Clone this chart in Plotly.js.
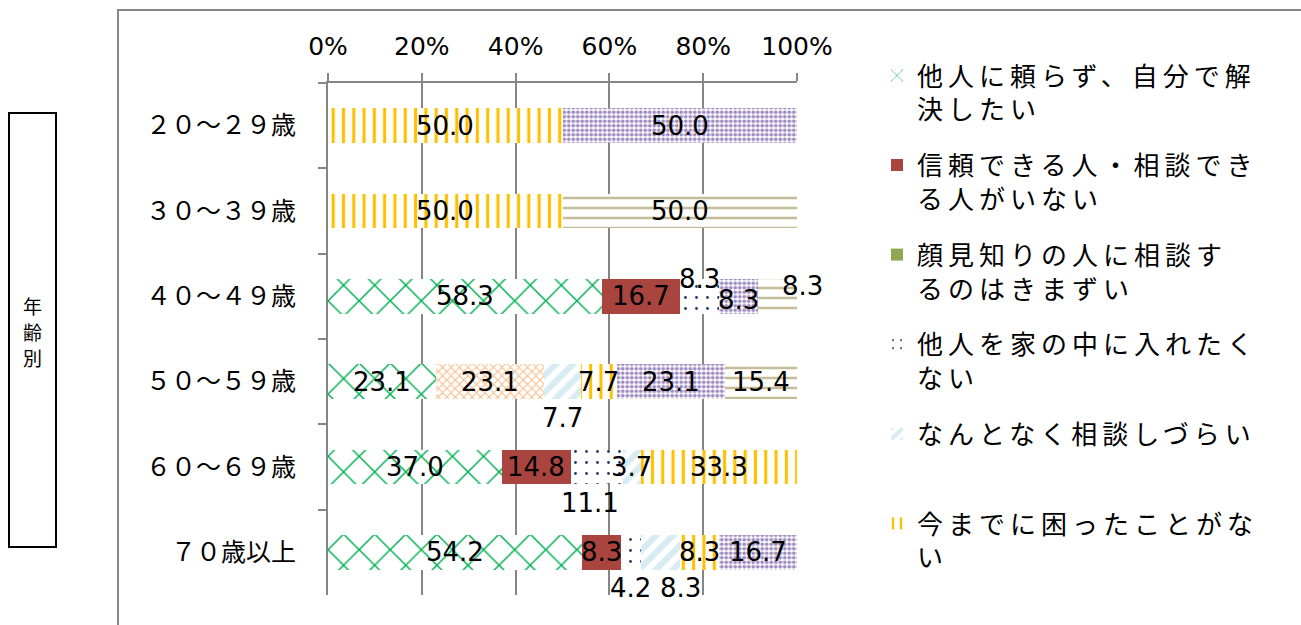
<!DOCTYPE html>
<html>
<head>
<meta charset="utf-8">
<script src="https://cdn.plot.ly/plotly-3.0.1.min.js"></script>
<style>
  html, body { margin: 0; padding: 0; background: #fff; }
  #chart { width: 1301px; height: 625px; }
  .legendtext { letter-spacing: 5px; }
</style>
</head>
<body>
<div id="chart"></div>
<script>
// ---- data ----
const categories = ['２０～２９歳', '３０～３９歳', '４０～４９歳', '５０～５９歳', '６０～６９歳', '７０歳以上'];
const xTickVals = [0, 20, 40, 60, 80, 100];
const xTickText = ['0%', '20%', '40%', '60%', '80%', '100%'];
const sideLabel = ['年', '齢', '別'];

const seriesNames = [
  '他人に頼らず、自分で解<br>決したい',
  '信頼できる人・相談でき<br>る人がいない',
  '顔見知りの人に相談す<br>るのはきまずい',
  '他人を家の中に入れたく<br>ない',
  'その他1',
  'なんとなく相談しづらい<br>\u00a0',
  '今までに困ったことがな<br>い',
  'その他2',
  'その他3'
];

const selfSolve   = [0, 0, 58.3, 23.1, 37.0, 54.2];
const noTrust     = [0, 0, 16.7, 0, 14.8, 8.3];
const awkward     = [0, 0, 0, 0, 0, 0];
const noVisitors  = [0, 0, 8.3, 0, 11.1, 4.2];
const other1      = [0, 0, 0, 23.1, 0, 0];
const vague       = [0, 0, 0, 7.7, 3.7, 8.3];
const neverTrouble= [50.0, 50.0, 0, 7.7, 33.3, 8.3];
const other2      = [50.0, 0, 8.3, 23.1, 0, 16.7];
const other3      = [0, 50.0, 8.3, 15.4, 0, 0];

const seriesValues = [selfSolve, noTrust, awkward, noVisitors, other1, vague, neverTrouble, other2, other3];

// ---- styles ----
const styles = [
  {color: '#00B050', pattern: {shape: 'x', size: 22, solidity: 0.13, fgcolor: '#00B050', bgcolor: '#ffffff'}, legend: true},
  {color: '#A9443F', pattern: null, legend: true},
  {color: '#8EA752', pattern: null, legend: true},
  {color: '#1F3864', pattern: {shape: '.', size: 11, solidity: 0.05, fgcolor: '#1F3864', bgcolor: '#ffffff'}, legend: true},
  {color: '#F9BE8E', pattern: {shape: 'x', size: 6, solidity: 0.35, fgcolor: '#F9BE8E', bgcolor: '#ffffff'}, legend: false},
  {color: '#D6EBF2', pattern: {shape: '/', size: 12, solidity: 0.5, fgcolor: '#D6EBF2', bgcolor: '#ffffff'}, legend: true},
  {color: '#FFC000', pattern: {shape: '|', size: 10.3, solidity: 0.3, fgcolor: '#FFC000', bgcolor: '#ffffff'}, legend: true},
  {color: '#A08CC0', pattern: {shape: '.', size: 4.5, solidity: 0.55, fgcolor: '#A08CC0', bgcolor: '#ffffff'}, legend: false},
  {color: '#C4BD97', pattern: {shape: '-', size: 10, solidity: 0.25, fgcolor: '#C4BD97', bgcolor: '#ffffff'}, legend: false}
];

// label offsets (pixels) for small segments: key = seriesIndex + '|' + categoryIndex
const labelShift = {
  '3|2': [0, 17],
  '8|2': [25, 10],
  '7|2': [0, -4],
  '5|3': [0, -36],
  '3|4': [-7, -36],
  '3|5': [0, -36],
  '5|5': [20, -36]
};

const traces = seriesValues.map((vals, s) => {
  const st = styles[s];
  const marker = {color: st.color, line: {width: 0}};
  if (st.pattern) marker.pattern = st.pattern;
  return {
    type: 'bar',
    orientation: 'h',
    name: seriesNames[s],
    x: vals,
    y: categories,
    marker: marker,
    showlegend: st.legend,
    legendgroup: 'g' + s,
    hoverinfo: 'skip'
  };
});

// data labels positioned at segment centres (normalised to 100%)
const annotations = [];
categories.forEach((cat, i) => {
  let total = 0;
  seriesValues.forEach(v => { total += v[i]; });
  let cum = 0;
  seriesValues.forEach((v, s) => {
    const val = v[i];
    if (val > 0) {
      const mid = (cum + val / 2) / total * 100;
      const sh = labelShift[s + '|' + i] || [0, 0];
      annotations.push({
        x: mid, y: cat, xref: 'x', yref: 'y',
        text: val.toFixed(1), showarrow: false,
        xshift: sh[0], yshift: sh[1],
        font: {family: 'DejaVu Sans', size: 26, color: '#000'}
      });
    }
    cum += val;
  });
});

// pixel helpers for frame elements
const L = 328, R = 1301 - 797, T = 83, B = 625 - 595;
const pw = 1301 - L - R, ph = 625 - T - B;
const px = X => (X - L) / pw;
const py = Y => 1 - (Y - T) / ph;

sideLabel.forEach((ch, k) => {
  annotations.push({
    xref: 'paper', yref: 'paper', x: px(32.5), y: py(305 + k * 26),
    xanchor: 'center', yanchor: 'middle',
    text: ch, showarrow: false,
    font: {family: 'Noto Sans CJK JP', size: 19, color: '#000'}
  });
});

const layout = {
  width: 1301, height: 625,
  margin: {l: L, r: R, t: T, b: B},
  paper_bgcolor: '#ffffff', plot_bgcolor: '#ffffff',
  barmode: 'stack', barnorm: 'percent', bargap: 0.59,
  hovermode: false,
  xaxis: {
    side: 'top', range: [0, 100], tickmode: 'array', tickvals: xTickVals, ticktext: xTickText,
    ticks: 'outside', ticklen: 8, tickwidth: 2, tickcolor: '#868686',
    showline: true, linecolor: '#868686', linewidth: 2,
    showgrid: true, gridcolor: '#868686', gridwidth: 2, zeroline: false,
    tickfont: {family: 'DejaVu Sans', size: 25, color: '#000'},
    ticklabelstandoff: 8, fixedrange: true
  },
  yaxis: {
    type: 'category', autorange: 'reversed',
    showline: true, linecolor: '#868686', linewidth: 2,
    ticks: 'outside', tickson: 'boundaries', ticklen: 8, tickwidth: 2, tickcolor: '#868686',
    showgrid: false, zeroline: false,
    tickfont: {family: 'Noto Sans CJK JP', size: 25, color: '#000'},
    ticklabelstandoff: 25, fixedrange: true
  },
  legend: {
    xref: 'container', yref: 'container',
    x: 877 / 1301, y: 1 - 52 / 625, xanchor: 'left', yanchor: 'top',
    font: {family: 'Noto Sans CJK JP', size: 26, color: '#000'},
    traceorder: 'grouped', tracegroupgap: 19, valign: 'top',
    bgcolor: 'rgba(0,0,0,0)', borderwidth: 0, maxheight: 1000
  },
  shapes: [
    {
      type: 'rect', xref: 'paper', yref: 'paper',
      x0: px(118), x1: px(1330), y0: py(10), y1: py(660),
      line: {color: '#868686', width: 2}, fillcolor: 'rgba(0,0,0,0)', layer: 'below'
    },
    {
      type: 'rect', xref: 'paper', yref: 'paper',
      x0: px(9), x1: px(56), y0: py(113), y1: py(547),
      line: {color: '#000000', width: 2}, fillcolor: 'rgba(0,0,0,0)', layer: 'below'
    }
  ],
  annotations: annotations
};

Plotly.newPlot('chart', traces, layout, {staticPlot: true, displayModeBar: false});
</script>
</body>
</html>
